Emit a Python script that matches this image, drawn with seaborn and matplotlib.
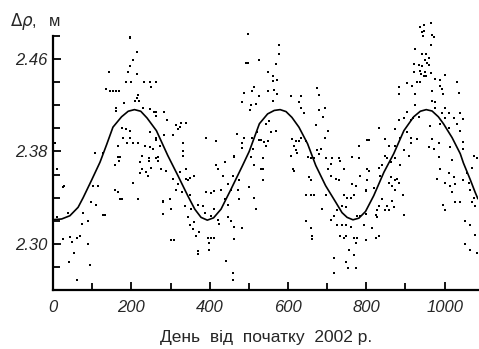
#Dr vs day: scatter of measurements plus fitted curve
import numpy as np
import matplotlib
matplotlib.use('Agg')
import matplotlib.pyplot as plt
import seaborn as sns
import pandas as pd
from matplotlib.ticker import MultipleLocator

#Fitted curve
fit_day = [0, 22, 43, 64, 77, 98, 120, 137, 153, 175, 192, 208, 224, 240, 264, 293, 319, 344,
           362, 378, 394, 410, 429, 455, 484, 501, 527, 548, 565, 580, 595, 610, 628, 650, 671,
           696, 722, 738, 751, 766, 781, 798, 819, 845, 870, 896, 921, 938, 953, 968, 984, 997,
           1019, 1040, 1048, 1065, 1078, 1085]
fit_val = [2.3209, 2.3215, 2.3243, 2.3316, 2.340, 2.3548, 2.3707, 2.386, 2.401, 2.410, 2.4148,
           2.4162, 2.4148, 2.409, 2.398, 2.3765, 2.359, 2.3417, 2.330, 2.3229, 2.3205, 2.3225,
           2.330, 2.3476, 2.3678, 2.3800, 2.404, 2.4125, 2.4155, 2.4162, 2.4145, 2.4095, 2.401,
           2.3867, 2.3678, 2.3504, 2.336, 2.327, 2.3229, 2.3208, 2.3222, 2.3280, 2.3417, 2.362,
           2.3780, 2.398, 2.410, 2.4148, 2.4162, 2.4150, 2.410, 2.404, 2.392, 2.378, 2.370,
           2.356, 2.3446, 2.339]

pt_day = [
    196, 214, 204, 196, 192, 214, 143, 187, 198, 232, 247, 262, 251, 135, 145, 153, 160, 168,
    217, 214, 209, 220, 181, 162, 160, 230, 247, 257, 177, 187, 196, 247, 217, 196, 179, 262,
    5, 128, 166, 190, 203, 234, 247, 255, 166, 226, 245, 107, 196,
    497, 493, 527, 264, 512, 487, 507, 527, 482, 505, 518, 504, 264, 264, 283, 292, 315, 327,
    340, 323, 319, 306, 283, 332, 391, 416, 470, 488, 482, 507, 522, 531, 482, 332, 332, 463,
    510, 264, 272, 268, 497,
    576, 576, 569, 548, 561, 571, 562, 550, 565, 571, 561, 607, 633, 628, 675, 678, 633, 641,
    679, 694, 690, 552, 544, 556, 569, 701, 695, 671, 527, 539, 548, 545, 611, 620, 628, 633,
    616, 620, 624, 607, 675, 679, 684, 645, 658, 730, 713, 696, 781, 802,
    947, 945, 968, 974, 964, 925, 942, 953, 959, 951, 955, 921, 934, 942, 959, 921, 936, 951,
    940, 947, 953, 964, 1002, 976, 989, 930, 938, 904, 917, 883, 1031, 989, 993, 968, 883, 925,
    1036, 997, 968, 976, 925, 976, 1002, 904, 896, 919, 883, 913, 934, 993, 1010, 1023, 1040,
    1002, 1048, 832, 874, 904, 963, 989, 1010, 1031, 1040, 807, 849, 887, 913, 930, 968, 985,
    959, 972, 858, 874, 896, 913, 1047, 1048, 1014, 1074, 985, 908, 874, 849, 964, 947, 938, 942,
    9, 28, 103, 115, 158, 166, 170, 177, 217, 98, 111, 128, 76, 39, 73, 90, 9, 25, 43, 48, 62,
    69, 90, 54, 42, 94, 62, 204, 221, 244, 226, 221, 238, 251, 243, 264, 169, 171, 158, 26, 204,
    175, 132, 281,
    268, 276, 289, 306, 323, 340, 340, 349, 360, 344, 281, 298, 302, 281, 315, 319, 329, 349,
    370, 382, 387, 391, 404, 412, 421, 416, 438, 433, 446, 429, 459, 455, 472, 476, 476, 463,
    505, 514, 531, 535, 501, 514, 518, 438, 446, 412, 404, 421, 425, 446, 455, 463, 482, 344,
    349, 361, 357, 374, 366, 395, 404, 412, 302, 310, 399, 370, 370, 399, 463, 442, 460, 460,
    353, 336,
    535, 535, 535, 612, 616, 650, 667, 654, 658, 645, 658, 667, 688, 696, 701, 709, 709, 722,
    730, 734, 743, 764, 781, 785, 764, 773, 743, 751, 760, 768, 739, 747, 709, 717, 726, 739,
    747, 760, 777, 785, 798, 802, 645, 658, 662, 662, 734, 743, 747, 768, 777, 773, 756, 768,
    717, 749, 754, 773, 717, 726, 798,
    802, 807, 802, 798, 819, 832, 841, 836, 853, 862, 862, 858, 874, 866, 879, 883, 874, 887,
    894, 896, 841, 832, 828, 824, 849, 858, 866, 870, 853, 828, 815, 832, 824, 798, 794, 989,
    980, 1002, 1010, 1023, 1027, 1014, 1019, 1048, 1057, 1061, 1070, 1082, 1065, 1074, 997,
    1002, 1027, 1040, 1070, 1078, 1053, 1065, 1078, 1053, 1065, 1082, 1019]
pt_val = [
    2.479, 2.466, 2.459, 2.454, 2.449, 2.447, 2.449, 2.440, 2.440, 2.440, 2.440, 2.440, 2.436,
    2.434, 2.432, 2.432, 2.432, 2.432, 2.429, 2.426, 2.424, 2.424, 2.422, 2.418, 2.415, 2.418,
    2.417, 2.414, 2.400, 2.399, 2.398, 2.397, 2.387, 2.392, 2.392, 2.390, 2.387, 2.379, 2.385,
    2.387, 2.387, 2.385, 2.384, 2.382, 2.375, 2.376, 2.374, 2.379, 2.478,
    2.457, 2.457, 2.459, 2.440, 2.436, 2.431, 2.432, 2.428, 2.423, 2.420, 2.421, 2.416, 2.414,
    2.411, 2.414, 2.407, 2.403, 2.405, 2.405, 2.401, 2.399, 2.394, 2.394, 2.387, 2.392, 2.389,
    2.395, 2.392, 2.387, 2.392, 2.397, 2.390, 2.383, 2.380, 2.376, 2.376, 2.382, 2.392, 2.385,
    2.375, 2.482,
    2.472, 2.464, 2.456, 2.449, 2.445, 2.442, 2.441, 2.432, 2.433, 2.430, 2.424, 2.428, 2.428,
    2.423, 2.435, 2.429, 2.418, 2.413, 2.416, 2.418, 2.410, 2.406, 2.404, 2.397, 2.398, 2.398,
    2.392, 2.403, 2.390, 2.388, 2.389, 2.385, 2.391, 2.389, 2.389, 2.392, 2.385, 2.381, 2.379,
    2.376, 2.381, 2.378, 2.382, 2.389, 2.374, 2.374, 2.374, 2.374, 2.385, 2.390,
    2.484, 2.480, 2.481, 2.479, 2.472, 2.469, 2.464, 2.464, 2.461, 2.459, 2.457, 2.456, 2.455,
    2.454, 2.455, 2.449, 2.450, 2.449, 2.447, 2.445, 2.445, 2.448, 2.446, 2.443, 2.442, 2.440,
    2.440, 2.439, 2.437, 2.436, 2.440, 2.437, 2.434, 2.432, 2.430, 2.430, 2.431, 2.430, 2.424,
    2.423, 2.420, 2.418, 2.418, 2.414, 2.409, 2.409, 2.407, 2.407, 2.410, 2.413, 2.413, 2.409,
    2.413, 2.409, 2.408, 2.400, 2.399, 2.397, 2.402, 2.404, 2.400, 2.404, 2.398, 2.390, 2.391,
    2.392, 2.392, 2.391, 2.391, 2.387, 2.384, 2.382, 2.385, 2.385, 2.381, 2.387, 2.388, 2.382,
    2.384, 2.376, 2.375, 2.376, 2.374, 2.376, 2.4916, 2.4896, 2.4876, 2.483,
    2.365, 2.350, 2.350, 2.350, 2.347, 2.345, 2.339, 2.339, 2.339, 2.336, 2.334, 2.325, 2.327,
    2.327, 2.317, 2.320, 2.323, 2.304, 2.306, 2.302, 2.305, 2.307, 2.300, 2.292, 2.284, 2.282,
    2.269, 2.353, 2.371, 2.372, 2.365, 2.361, 2.362, 2.366, 2.359, 2.374, 2.372, 2.375, 2.368,
    2.349, 2.353, 2.339, 2.325, 2.336,
    2.372, 2.365, 2.363, 2.356, 2.362, 2.365, 2.356, 2.357, 2.359, 2.355, 2.337, 2.339, 2.330,
    2.326, 2.347, 2.352, 2.345, 2.342, 2.334, 2.333, 2.327, 2.345, 2.344, 2.346, 2.365, 2.368,
    2.371, 2.359, 2.352, 2.347, 2.359, 2.347, 2.347, 2.355, 2.339, 2.375, 2.375, 2.368, 2.365,
    2.355, 2.349, 2.340, 2.330, 2.339, 2.334, 2.330, 2.324, 2.321, 2.317, 2.323, 2.320, 2.315,
    2.314, 2.323, 2.316, 2.319, 2.313, 2.310, 2.307, 2.305, 2.305, 2.305, 2.303, 2.303, 2.301,
    2.294, 2.291, 2.295, 2.304, 2.285, 2.275, 2.269, 2.330, 2.333,
    2.374, 2.365, 2.355, 2.365, 2.363, 2.375, 2.374, 2.358, 2.355, 2.342, 2.342, 2.342, 2.330,
    2.342, 2.365, 2.359, 2.369, 2.356, 2.355, 2.372, 2.365, 2.375, 2.374, 2.359, 2.352, 2.350,
    2.342, 2.340, 2.340, 2.342, 2.333, 2.332, 2.321, 2.324, 2.316, 2.316, 2.316, 2.315, 2.324,
    2.324, 2.347, 2.365, 2.320, 2.314, 2.307, 2.304, 2.307, 2.305, 2.307, 2.305, 2.305, 2.301,
    2.295, 2.290, 2.288, 2.284, 2.279, 2.279, 2.275, 2.329, 2.326,
    2.365, 2.363, 2.355, 2.346, 2.348, 2.366, 2.368, 2.359, 2.374, 2.371, 2.358, 2.353, 2.355,
    2.350, 2.356, 2.353, 2.347, 2.368, 2.342, 2.325, 2.339, 2.333, 2.329, 2.325, 2.329, 2.329,
    2.337, 2.332, 2.333, 2.323, 2.314, 2.307, 2.305, 2.303, 2.316, 2.365, 2.356, 2.353, 2.361,
    2.358, 2.352, 2.350, 2.345, 2.355, 2.361, 2.353, 2.366, 2.374, 2.347, 2.340, 2.334, 2.329,
    2.336, 2.336, 2.336, 2.333, 2.320, 2.316, 2.308, 2.300, 2.295, 2.292, 2.373]

pts = pd.DataFrame({'day': pt_day, 'val': pt_val})
fit = pd.DataFrame({'day': fit_day, 'val': fit_val})

sns.set_style('ticks')
plt.rcParams['font.family'] = ['Liberation Sans', 'DejaVu Sans']

fig = plt.figure(figsize=(4.79, 3.49), dpi=100)
ax = fig.add_axes([0.1107, 0.169, 0.887, 0.728])

sns.scatterplot(x='day', y='val', data=pts, ax=ax, color='black', marker='s', s=2,
                linewidth=0, clip_on=False, legend=False)
sns.lineplot(x='day', y='val', data=fit, ax=ax, color='black', lw=1.2)

ax.set_xlim(0, 1085)
ax.set_ylim(2.26, 2.48)
ax.xaxis.set_major_locator(MultipleLocator(200))
ax.xaxis.set_minor_locator(MultipleLocator(100))
ax.yaxis.set_minor_locator(MultipleLocator(0.02))
ax.set_yticks([2.30, 2.38, 2.46])
ax.set_yticklabels(['2.30', '2.38', '2.46'])

for s in ['top', 'right']:
    ax.spines[s].set_visible(False)
for s in ['left', 'bottom']:
    ax.spines[s].set_linewidth(1.6)
    ax.spines[s].set_color('black')

ax.tick_params(which='both', direction='in', width=1.3, color='black',
               bottom=True, left=True, top=False, right=False)
ax.tick_params(which='major', length=5.5)
ax.tick_params(which='minor', length=5)
ax.tick_params(axis='x', which='major', pad=7, labelsize=12)
ax.tick_params(axis='y', which='major', pad=4, labelsize=12)
for lab in ax.get_xticklabels() + ax.get_yticklabels():
    lab.set_fontstyle('italic')

ax.set_xlabel('')
ax.set_ylabel('')
fig.text(0.556, 0.02, 'День  від  початку  2002 р.', ha='center', va='baseline', fontsize=12.5)
fig.text(0.02, 0.925, r'$\Delta\rho$,', ha='left', va='baseline', fontsize=12,
         math_fontfamily='dejavusans')
fig.text(0.103, 0.925, 'м', ha='left', va='baseline', fontsize=12)

fig.savefig('out.png', dpi=100)
